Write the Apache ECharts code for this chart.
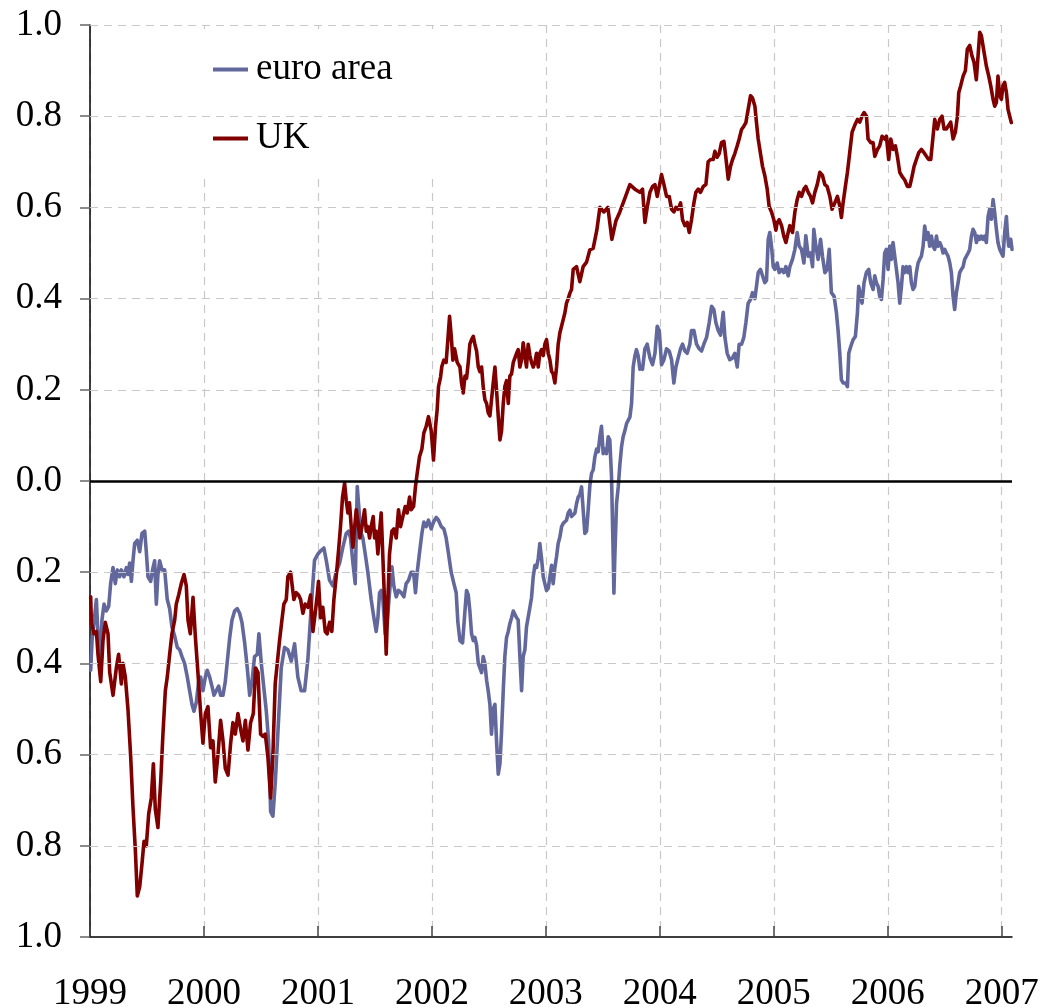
<!DOCTYPE html>
<html>
<head>
<meta charset="utf-8">
<script src="https://cdn.jsdelivr.net/npm/echarts@6/dist/echarts.min.js"></script>
<style>
html,body{margin:0;padding:0;background:#fff;}
#chart{width:1045px;height:1008px;}
</style>
</head>
<body>
<div id="chart"></div>
<script>
// Tick labels
const yearTicks = [1999, 2000, 2001, 2002, 2003, 2004, 2005, 2006, 2007];
const yGridValues = [1.0, 0.8, 0.6, 0.4, 0.2, -0.2, -0.4, -0.6, -0.8];
const seriesNames = ['euro area', 'UK'];

// euro area: [decimal year, value]
const euroArea = [
[1999.006,-0.415],[1999.018,-0.35],[1999.035,-0.31],[1999.056,-0.26],[1999.070,-0.34],[1999.085,-0.395],
[1999.105,-0.305],[1999.123,-0.27],[1999.143,-0.285],[1999.164,-0.275],[1999.181,-0.225],[1999.202,-0.19],
[1999.222,-0.225],[1999.240,-0.195],[1999.260,-0.21],[1999.275,-0.195],[1999.298,-0.21],[1999.319,-0.19],
[1999.333,-0.205],[1999.348,-0.18],[1999.363,-0.22],[1999.377,-0.175],[1999.392,-0.137],[1999.415,-0.13],
[1999.436,-0.155],[1999.456,-0.115],[1999.480,-0.11],[1999.494,-0.155],[1999.509,-0.21],[1999.532,-0.22],
[1999.553,-0.19],[1999.567,-0.175],[1999.582,-0.27],[1999.596,-0.205],[1999.611,-0.175],[1999.632,-0.195],
[1999.655,-0.195],[1999.678,-0.26],[1999.699,-0.28],[1999.719,-0.32],[1999.743,-0.34],[1999.766,-0.365],
[1999.787,-0.37],[1999.807,-0.385],[1999.830,-0.40],[1999.854,-0.43],[1999.874,-0.46],[1999.895,-0.49],
[1999.912,-0.505],[1999.933,-0.485],[1999.953,-0.44],[1999.971,-0.43],[1999.991,-0.46],[2000.012,-0.43],
[2000.029,-0.415],[2000.050,-0.43],[2000.070,-0.45],[2000.088,-0.47],[2000.108,-0.46],[2000.129,-0.45],
[2000.146,-0.47],[2000.167,-0.47],[2000.187,-0.44],[2000.205,-0.395],[2000.225,-0.345],[2000.246,-0.305],
[2000.269,-0.285],[2000.292,-0.28],[2000.313,-0.29],[2000.333,-0.31],[2000.357,-0.355],[2000.380,-0.41],
[2000.401,-0.47],[2000.421,-0.44],[2000.444,-0.385],[2000.468,-0.38],[2000.482,-0.335],[2000.503,-0.40],
[2000.526,-0.455],[2000.547,-0.505],[2000.567,-0.57],[2000.585,-0.725],[2000.605,-0.735],[2000.626,-0.66],
[2000.649,-0.55],[2000.678,-0.41],[2000.707,-0.365],[2000.736,-0.37],[2000.766,-0.395],[2000.795,-0.357],
[2000.824,-0.43],[2000.853,-0.46],[2000.883,-0.46],[2000.912,-0.39],[2000.941,-0.277],[2000.970,-0.174],
[2001.000,-0.16],[2001.029,-0.152],[2001.052,-0.147],[2001.073,-0.174],[2001.102,-0.218],[2001.131,-0.23],
[2001.160,-0.20],[2001.190,-0.18],[2001.219,-0.145],[2001.248,-0.115],[2001.269,-0.11],[2001.286,-0.125],
[2001.307,-0.18],[2001.327,-0.225],[2001.345,-0.012],[2001.356,-0.012],[2001.374,-0.11],[2001.394,-0.125],
[2001.415,-0.16],[2001.438,-0.20],[2001.467,-0.26],[2001.491,-0.30],[2001.511,-0.33],[2001.526,-0.30],
[2001.541,-0.245],[2001.555,-0.24],[2001.570,-0.26],[2001.590,-0.335],[2001.608,-0.31],[2001.628,-0.245],
[2001.649,-0.188],[2001.666,-0.23],[2001.687,-0.254],[2001.707,-0.24],[2001.731,-0.245],[2001.754,-0.254],
[2001.774,-0.225],[2001.795,-0.218],[2001.818,-0.20],[2001.839,-0.20],[2001.856,-0.245],[2001.871,-0.20],
[2001.891,-0.158],[2001.912,-0.115],[2001.929,-0.09],[2001.950,-0.10],[2001.970,-0.086],[2001.994,-0.105],
[2002.014,-0.09],[2002.038,-0.08],[2002.058,-0.086],[2002.082,-0.10],[2002.105,-0.105],[2002.125,-0.125],
[2002.146,-0.16],[2002.169,-0.20],[2002.193,-0.225],[2002.213,-0.245],[2002.228,-0.31],[2002.246,-0.35],
[2002.269,-0.355],[2002.290,-0.285],[2002.304,-0.24],[2002.319,-0.25],[2002.333,-0.285],[2002.348,-0.335],
[2002.363,-0.35],[2002.377,-0.343],[2002.392,-0.36],[2002.407,-0.40],[2002.421,-0.41],[2002.436,-0.42],
[2002.450,-0.385],[2002.465,-0.40],[2002.480,-0.437],[2002.494,-0.46],[2002.509,-0.49],[2002.523,-0.555],
[2002.538,-0.50],[2002.553,-0.49],[2002.567,-0.57],[2002.582,-0.643],[2002.597,-0.62],[2002.611,-0.55],
[2002.626,-0.46],[2002.640,-0.385],[2002.655,-0.343],[2002.670,-0.33],[2002.684,-0.313],[2002.699,-0.30],
[2002.714,-0.285],[2002.728,-0.285],[2002.743,-0.30],[2002.757,-0.305],[2002.772,-0.385],[2002.787,-0.46],
[2002.801,-0.385],[2002.816,-0.37],[2002.830,-0.32],[2002.845,-0.32],[2002.860,-0.277],[2002.874,-0.256],
[2002.889,-0.21],[2002.904,-0.185],[2002.918,-0.19],[2002.933,-0.17],[2002.947,-0.137],[2002.962,-0.17],
[2002.977,-0.21],[2002.991,-0.225],[2003.006,-0.24],[2003.021,-0.235],[2003.035,-0.235],[2003.050,-0.185],
[2003.064,-0.225],[2003.079,-0.19],[2003.094,-0.165],[2003.108,-0.137],[2003.123,-0.123],[2003.138,-0.10],
[2003.152,-0.093],[2003.167,-0.093],[2003.181,-0.086],[2003.196,-0.07],[2003.211,-0.064],[2003.225,-0.078],
[2003.240,-0.078],[2003.255,-0.07],[2003.269,-0.05],[2003.284,-0.035],[2003.298,-0.03],[2003.313,-0.013],
[2003.327,-0.013],[2003.342,-0.115],[2003.357,-0.11],[2003.371,-0.064],[2003.386,-0.01],[2003.401,0.017],
[2003.415,0.024],[2003.430,0.053],[2003.445,0.07],[2003.459,0.064],[2003.474,0.097],[2003.488,0.12],
[2003.503,0.06],[2003.518,0.07],[2003.532,0.06],[2003.547,0.097],[2003.561,0.09],[2003.576,0.01],
[2003.591,-0.166],[2003.597,-0.246],[2003.605,-0.166],[2003.620,-0.05],[2003.635,-0.013],[2003.649,0.035],
[2003.664,0.075],[2003.678,0.097],[2003.693,0.11],[2003.708,0.126],[2003.722,0.133],[2003.737,0.14],
[2003.752,0.17],[2003.766,0.25],[2003.781,0.274],[2003.795,0.288],[2003.810,0.274],[2003.825,0.245],
[2003.839,0.25],[2003.848,0.245],[2003.869,0.29],[2003.889,0.30],[2003.913,0.27],[2003.936,0.255],
[2003.957,0.28],[2003.977,0.339],[2003.995,0.33],[2004.015,0.255],[2004.036,0.266],[2004.059,0.29],
[2004.082,0.285],[2004.103,0.266],[2004.123,0.215],[2004.141,0.25],[2004.161,0.27],[2004.182,0.29],
[2004.199,0.30],[2004.220,0.285],[2004.240,0.28],[2004.263,0.30],[2004.278,0.33],[2004.299,0.33],
[2004.322,0.30],[2004.345,0.29],[2004.366,0.285],[2004.386,0.30],[2004.410,0.315],[2004.433,0.347],
[2004.454,0.383],[2004.474,0.376],[2004.492,0.347],[2004.512,0.33],[2004.533,0.32],[2004.556,0.37],
[2004.571,0.315],[2004.591,0.28],[2004.614,0.266],[2004.638,0.27],[2004.658,0.28],[2004.679,0.25],
[2004.696,0.30],[2004.717,0.30],[2004.737,0.315],[2004.755,0.347],[2004.775,0.39],[2004.796,0.398],
[2004.813,0.413],[2004.834,0.40],[2004.848,0.427],[2004.863,0.457],[2004.883,0.464],[2004.901,0.45],
[2004.921,0.435],[2004.936,0.44],[2004.951,0.53],[2004.965,0.545],[2004.980,0.515],[2004.995,0.47],
[2005.009,0.464],[2005.030,0.478],[2005.047,0.457],[2005.068,0.464],[2005.088,0.457],[2005.106,0.47],
[2005.126,0.45],[2005.141,0.47],[2005.164,0.486],[2005.185,0.508],[2005.205,0.545],[2005.223,0.515],
[2005.243,0.508],[2005.264,0.478],[2005.281,0.538],[2005.302,0.493],[2005.322,0.50],[2005.340,0.47],
[2005.351,0.552],[2005.369,0.515],[2005.389,0.486],[2005.410,0.53],[2005.427,0.493],[2005.448,0.457],
[2005.468,0.464],[2005.486,0.508],[2005.505,0.413],[2005.529,0.405],[2005.549,0.37],[2005.564,0.33],
[2005.579,0.28],[2005.593,0.222],[2005.608,0.215],[2005.628,0.215],[2005.646,0.207],[2005.658,0.28],
[2005.675,0.295],[2005.696,0.31],[2005.716,0.317],[2005.734,0.37],[2005.745,0.427],[2005.763,0.405],
[2005.774,0.39],[2005.792,0.435],[2005.812,0.457],[2005.833,0.464],[2005.850,0.435],[2005.871,0.42],
[2005.886,0.45],[2005.900,0.435],[2005.915,0.427],[2005.929,0.405],[2005.944,0.398],[2005.959,0.442],
[2005.973,0.50],[2005.988,0.508],[2006.003,0.464],[2006.017,0.515],[2006.032,0.486],[2006.046,0.523],
[2006.061,0.523],[2006.076,0.464],[2006.090,0.435],[2006.105,0.39],[2006.120,0.427],[2006.134,0.47],
[2006.149,0.457],[2006.164,0.47],[2006.178,0.457],[2006.193,0.47],[2006.207,0.435],[2006.222,0.42],
[2006.237,0.427],[2006.251,0.457],[2006.266,0.478],[2006.280,0.486],[2006.295,0.493],[2006.310,0.515],
[2006.324,0.559],[2006.339,0.53],[2006.353,0.545],[2006.368,0.515],[2006.383,0.537],[2006.397,0.515],
[2006.412,0.508],[2006.427,0.537],[2006.441,0.515],[2006.456,0.523],[2006.470,0.515],[2006.485,0.50],
[2006.500,0.508],[2006.514,0.50],[2006.529,0.493],[2006.544,0.478],[2006.558,0.457],[2006.573,0.405],
[2006.587,0.376],[2006.602,0.413],[2006.617,0.435],[2006.631,0.457],[2006.646,0.464],[2006.661,0.47],
[2006.675,0.486],[2006.690,0.486],[2006.705,0.50],[2006.719,0.508],[2006.734,0.537],[2006.748,0.552],
[2006.763,0.545],[2006.778,0.523],[2006.792,0.537],[2006.807,0.53],[2006.821,0.537],[2006.836,0.53],
[2006.850,0.537],[2006.865,0.523],[2006.880,0.58],[2006.894,0.596],[2006.909,0.574],[2006.924,0.617],
[2006.938,0.589],[2006.953,0.552],[2006.967,0.523],[2006.982,0.508],[2006.997,0.50],[2007.011,0.493],
[2007.026,0.545],[2007.041,0.58],[2007.049,0.545],[2007.061,0.515],[2007.079,0.53],[2007.090,0.508]
];

// UK: [decimal year, value]
const uk = [
[1999.006,-0.254],[1999.012,-0.31],[1999.035,-0.335],[1999.056,-0.33],[1999.070,-0.38],[1999.094,-0.44],
[1999.114,-0.35],[1999.134,-0.31],[1999.158,-0.335],[1999.173,-0.42],[1999.202,-0.47],[1999.231,-0.41],
[1999.251,-0.38],[1999.275,-0.445],[1999.289,-0.40],[1999.310,-0.43],[1999.333,-0.50],[1999.357,-0.605],
[1999.377,-0.715],[1999.398,-0.81],[1999.415,-0.91],[1999.436,-0.89],[1999.456,-0.84],[1999.474,-0.79],
[1999.494,-0.80],[1999.515,-0.73],[1999.538,-0.695],[1999.556,-0.62],[1999.573,-0.72],[1999.596,-0.76],
[1999.620,-0.66],[1999.640,-0.555],[1999.661,-0.46],[1999.678,-0.43],[1999.699,-0.38],[1999.719,-0.335],
[1999.743,-0.305],[1999.757,-0.27],[1999.778,-0.25],[1999.801,-0.225],[1999.825,-0.205],[1999.845,-0.23],
[1999.860,-0.305],[1999.880,-0.335],[1999.904,-0.255],[1999.924,-0.34],[1999.947,-0.42],[1999.971,-0.51],
[1999.991,-0.575],[2000.012,-0.51],[2000.035,-0.495],[2000.058,-0.585],[2000.079,-0.57],[2000.099,-0.66],
[2000.123,-0.60],[2000.146,-0.525],[2000.167,-0.57],[2000.187,-0.63],[2000.211,-0.645],[2000.234,-0.575],
[2000.254,-0.53],[2000.275,-0.555],[2000.298,-0.51],[2000.322,-0.545],[2000.342,-0.57],[2000.363,-0.525],
[2000.386,-0.59],[2000.409,-0.53],[2000.433,-0.51],[2000.453,-0.41],[2000.474,-0.42],[2000.497,-0.555],
[2000.518,-0.56],[2000.538,-0.555],[2000.561,-0.605],[2000.585,-0.695],[2000.605,-0.60],[2000.625,-0.445],
[2000.643,-0.40],[2000.663,-0.35],[2000.684,-0.305],[2000.701,-0.27],[2000.722,-0.26],[2000.736,-0.21],
[2000.760,-0.20],[2000.772,-0.197],[2000.789,-0.26],[2000.810,-0.245],[2000.830,-0.25],[2000.848,-0.26],
[2000.868,-0.29],[2000.888,-0.27],[2000.912,-0.277],[2000.935,-0.25],[2000.956,-0.33],[2000.976,-0.29],
[2000.994,-0.25],[2001.005,-0.22],[2001.023,-0.30],[2001.043,-0.277],[2001.064,-0.33],[2001.081,-0.335],
[2001.102,-0.31],[2001.122,-0.33],[2001.140,-0.26],[2001.160,-0.21],[2001.181,-0.152],[2001.198,-0.10],
[2001.216,-0.035],[2001.234,-0.005],[2001.248,-0.042],[2001.263,-0.07],[2001.277,-0.048],[2001.292,-0.10],
[2001.307,-0.145],[2001.321,-0.105],[2001.336,-0.063],[2001.350,-0.086],[2001.368,-0.125],[2001.386,-0.10],
[2001.409,-0.063],[2001.424,-0.11],[2001.438,-0.10],[2001.453,-0.125],[2001.467,-0.10],[2001.485,-0.078],
[2001.497,-0.125],[2001.511,-0.11],[2001.526,-0.16],[2001.541,-0.11],[2001.555,-0.07],[2001.570,-0.07],
[2001.584,-0.26],[2001.599,-0.38],[2001.614,-0.26],[2001.628,-0.16],[2001.649,-0.11],[2001.666,-0.105],
[2001.687,-0.125],[2001.707,-0.063],[2001.725,-0.10],[2001.745,-0.078],[2001.766,-0.056],[2001.783,-0.07],
[2001.804,-0.035],[2001.818,-0.063],[2001.839,-0.056],[2001.856,-0.012],[2001.871,0.017],[2001.891,0.053],
[2001.912,0.07],[2001.929,0.105],[2001.950,0.12],[2001.970,0.141],[2001.994,0.11],[2002.014,0.046],
[2002.032,0.12],[2002.046,0.156],[2002.058,0.207],[2002.076,0.228],[2002.087,0.251],[2002.105,0.265],
[2002.125,0.26],[2002.140,0.31],[2002.155,0.361],[2002.169,0.32],[2002.184,0.265],[2002.199,0.29],
[2002.222,0.26],[2002.246,0.25],[2002.260,0.215],[2002.275,0.193],[2002.290,0.23],[2002.304,0.225],
[2002.319,0.26],[2002.333,0.30],[2002.348,0.31],[2002.363,0.317],[2002.377,0.30],[2002.392,0.285],
[2002.407,0.25],[2002.421,0.24],[2002.436,0.25],[2002.450,0.207],[2002.465,0.178],[2002.480,0.17],
[2002.494,0.15],[2002.509,0.143],[2002.523,0.178],[2002.538,0.215],[2002.553,0.25],[2002.567,0.20],
[2002.582,0.143],[2002.597,0.09],[2002.611,0.11],[2002.626,0.17],[2002.640,0.207],[2002.655,0.22],
[2002.670,0.17],[2002.684,0.23],[2002.699,0.235],[2002.714,0.26],[2002.728,0.26],[2002.743,0.28],
[2002.757,0.288],[2002.772,0.25],[2002.787,0.266],[2002.801,0.303],[2002.816,0.275],[2002.830,0.25],
[2002.845,0.30],[2002.860,0.275],[2002.874,0.26],[2002.889,0.25],[2002.904,0.26],[2002.918,0.28],
[2002.933,0.25],[2002.947,0.28],[2002.962,0.288],[2002.977,0.275],[2002.991,0.30],[2003.006,0.31],
[2003.021,0.28],[2003.035,0.266],[2003.050,0.24],[2003.064,0.235],[2003.079,0.215],[2003.094,0.25],
[2003.108,0.30],[2003.123,0.325],[2003.138,0.34],[2003.152,0.354],[2003.167,0.369],[2003.181,0.39],
[2003.196,0.40],[2003.211,0.412],[2003.225,0.42],[2003.240,0.464],[2003.269,0.47],[2003.298,0.437],
[2003.327,0.47],[2003.357,0.48],[2003.386,0.507],[2003.415,0.51],[2003.447,0.55],[2003.474,0.60],
[2003.509,0.59],[2003.544,0.60],[2003.579,0.53],[2003.614,0.57],[2003.649,0.59],[2003.693,0.62],
[2003.737,0.65],[2003.781,0.64],[2003.825,0.633],[2003.848,0.64],[2003.869,0.567],[2003.889,0.60],
[2003.913,0.633],[2003.936,0.646],[2003.957,0.65],[2003.977,0.624],[2003.995,0.646],[2004.015,0.672],
[2004.036,0.65],[2004.059,0.624],[2004.082,0.624],[2004.103,0.596],[2004.123,0.59],[2004.141,0.60],
[2004.161,0.596],[2004.182,0.61],[2004.199,0.573],[2004.220,0.56],[2004.240,0.567],[2004.258,0.545],
[2004.278,0.573],[2004.299,0.61],[2004.316,0.633],[2004.337,0.64],[2004.357,0.633],[2004.381,0.646],
[2004.404,0.65],[2004.424,0.70],[2004.445,0.705],[2004.468,0.705],[2004.483,0.723],[2004.503,0.71],
[2004.521,0.718],[2004.541,0.742],[2004.562,0.745],[2004.579,0.71],[2004.600,0.662],[2004.620,0.69],
[2004.638,0.705],[2004.658,0.718],[2004.679,0.735],[2004.696,0.75],[2004.717,0.771],[2004.737,0.778],
[2004.755,0.786],[2004.775,0.815],[2004.796,0.845],[2004.813,0.84],[2004.834,0.822],[2004.848,0.786],
[2004.863,0.75],[2004.883,0.718],[2004.901,0.69],[2004.921,0.67],[2004.942,0.64],[2004.959,0.602],
[2004.980,0.59],[2005.000,0.573],[2005.018,0.55],[2005.030,0.567],[2005.047,0.573],[2005.068,0.56],
[2005.088,0.537],[2005.106,0.523],[2005.126,0.545],[2005.141,0.56],[2005.164,0.545],[2005.185,0.59],
[2005.205,0.617],[2005.223,0.633],[2005.243,0.624],[2005.264,0.64],[2005.281,0.646],[2005.302,0.633],
[2005.322,0.624],[2005.340,0.61],[2005.360,0.633],[2005.381,0.65],[2005.404,0.677],[2005.427,0.67],
[2005.448,0.65],[2005.468,0.646],[2005.492,0.624],[2005.511,0.596],[2005.535,0.61],[2005.558,0.624],
[2005.579,0.603],[2005.593,0.578],[2005.608,0.61],[2005.628,0.646],[2005.646,0.677],[2005.666,0.72],
[2005.687,0.765],[2005.710,0.78],[2005.734,0.793],[2005.754,0.787],[2005.774,0.80],[2005.792,0.808],
[2005.813,0.80],[2005.827,0.75],[2005.851,0.742],[2005.871,0.742],[2005.886,0.712],[2005.909,0.727],
[2005.929,0.735],[2005.950,0.756],[2005.973,0.75],[2005.988,0.756],[2006.008,0.705],[2006.026,0.75],
[2006.046,0.727],[2006.067,0.735],[2006.084,0.712],[2006.105,0.677],[2006.125,0.668],[2006.149,0.66],
[2006.172,0.646],[2006.193,0.646],[2006.213,0.668],[2006.231,0.69],[2006.251,0.705],[2006.272,0.72],
[2006.295,0.727],[2006.318,0.72],[2006.339,0.712],[2006.359,0.705],[2006.377,0.705],[2006.389,0.735],
[2006.412,0.793],[2006.435,0.772],[2006.456,0.793],[2006.476,0.80],[2006.494,0.772],[2006.514,0.772],
[2006.535,0.78],[2006.552,0.787],[2006.573,0.75],[2006.593,0.765],[2006.611,0.80],[2006.623,0.852],
[2006.640,0.867],[2006.661,0.888],[2006.681,0.90],[2006.698,0.947],[2006.719,0.955],[2006.739,0.932],
[2006.757,0.918],[2006.777,0.88],[2006.792,0.932],[2006.807,0.984],[2006.821,0.977],[2006.845,0.94],
[2006.865,0.91],[2006.886,0.888],[2006.903,0.867],[2006.924,0.837],[2006.938,0.822],[2006.953,0.83],
[2006.967,0.888],[2006.982,0.845],[2006.997,0.837],[2007.011,0.867],[2007.026,0.874],[2007.041,0.852],
[2007.055,0.815],[2007.070,0.80],[2007.084,0.786]
];

const FONT = "'Liberation Serif', 'Times New Roman', serif";
const chart = echarts.init(document.getElementById('chart'), null, {renderer: 'canvas'});

const gridLineData = yGridValues.map(v => [
  {coord: [yearTicks[0], v]},
  {coord: [yearTicks[yearTicks.length - 1], v]}
]);

chart.setOption({
  animation: false,
  backgroundColor: '#ffffff',
  grid: {left: 90, right: 33, top: 25, bottom: 71, containLabel: false, outerBoundsMode: 'none'},
  legend: {
    data: seriesNames,
    orient: 'vertical',
    left: 160,
    top: 29,
    padding: [22, 60, 22, 53],
    backgroundColor: '#ffffff',
    itemGap: 32,
    itemWidth: 35,
    itemHeight: 4,
    icon: 'rect',
    textStyle: {fontFamily: FONT, fontSize: 37, color: '#000', lineHeight: 36, padding: [0, 0, 0, 3]}
  },
  xAxis: {
    type: 'value',
    min: 1999,
    max: 2007.09,
    interval: 1,
    axisLine: {show: true, onZero: false, lineStyle: {color: '#000', width: 1.5}},
    axisTick: {show: true, inside: true, length: 11, customValues: yearTicks, lineStyle: {color: '#444', width: 1.5}},
    axisLabel: {
      show: true, customValues: yearTicks, margin: 39,
      fontFamily: FONT, fontSize: 37, color: '#000',
      formatter: v => String(Math.round(v))
    },
    splitLine: {show: true, lineStyle: {color: '#c8c8c8', width: 1.2, type: [8, 6]}}
  },
  yAxis: {
    type: 'value',
    min: -1,
    max: 1,
    interval: 0.2,
    axisLine: {show: true, lineStyle: {color: '#000', width: 1.5}},
    axisTick: {show: true, inside: false, length: 10, lineStyle: {color: '#666', width: 1.5}},
    axisLabel: {
      show: true, margin: 28,
      fontFamily: FONT, fontSize: 37, color: '#000',
      formatter: v => Math.abs(v).toFixed(1)
    },
    splitLine: {show: false}
  },
  series: [
    {
      name: 'grid', type: 'line', data: [], z: 1, silent: true,
      markLine: {
        silent: true, symbol: 'none', animation: false,
        label: {show: false},
        lineStyle: {color: '#c8c8c8', width: 1.2, type: [8, 6]},
        data: gridLineData
      }
    },
    {
      name: seriesNames[0], type: 'line', data: euroArea, z: 2,
      showSymbol: false, symbol: 'none',
      color: '#62689c',
      lineStyle: {color: '#62689c', width: 3.6, join: 'round', cap: 'round'}
    },
    {
      name: seriesNames[1], type: 'line', data: uk, z: 3,
      showSymbol: false, symbol: 'none',
      color: '#800000',
      lineStyle: {color: '#800000', width: 3.6, join: 'round', cap: 'round'}
    },
    {
      name: 'zero', type: 'line', data: [], z: 4, silent: true,
      markLine: {
        silent: true, symbol: 'none', animation: false,
        label: {show: false},
        lineStyle: {color: '#000', width: 2.5, type: 'solid'},
        data: [{yAxis: 0}]
      }
    }
  ]
});
</script>
</body>
</html>
